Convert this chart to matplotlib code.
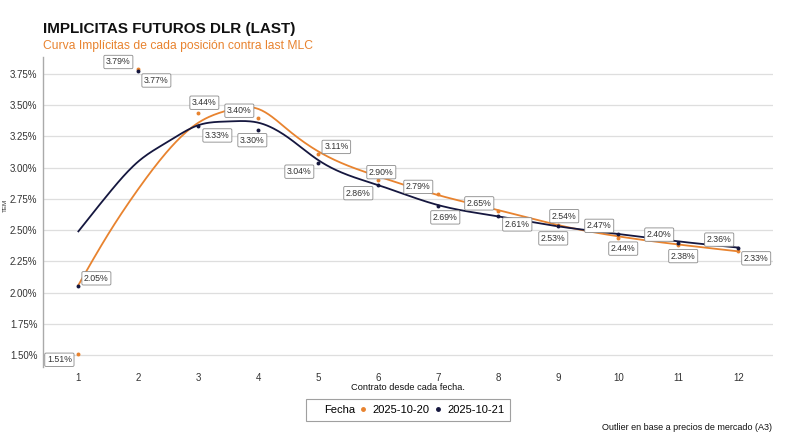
import numpy as np
import matplotlib
matplotlib.use("Agg")
import matplotlib.pyplot as plt
from matplotlib.lines import Line2D
from matplotlib.ticker import FuncFormatter

plt.rcParams['font.family'] = ['Liberation Sans', 'DejaVu Sans']

# ---------------- data ----------------
contracts = [1, 2, 3, 4, 5, 6, 7, 8, 9, 10, 11, 12]
vals_1020 = [1.51, 3.79, 3.44, 3.40, 3.11, 2.90, 2.79, 2.65, 2.54, 2.44, 2.38, 2.33]
vals_1021 = [2.05, 3.77, 3.33, 3.30, 3.04, 2.86, 2.69, 2.61, 2.53, 2.47, 2.40, 2.36]

# smoothed curves
smooth_x = [1, 1.5, 2, 2.5, 3, 3.5, 4, 4.5, 5, 6, 7, 8, 9, 10, 11, 12]
smooth_1020 = [2.06, 2.47, 2.83, 3.14, 3.36, 3.46, 3.47, 3.30, 3.13, 2.93, 2.78, 2.66, 2.54, 2.45, 2.385, 2.33]
smooth_1021 = [2.49, 2.79, 3.05, 3.21, 3.34, 3.37, 3.36, 3.24, 3.06, 2.86, 2.70, 2.61, 2.53, 2.47, 2.41, 2.36]

series_labels = ["2025-10-20", "2025-10-21"]
yticks = [1.50, 1.75, 2.00, 2.25, 2.50, 2.75, 3.00, 3.25, 3.50, 3.75]

# label offsets (pixels) - styling
off_1020 = [(-19, -6), (-20, 7), (6, 10), (-19, 7), (18, 7), (3, 8), (-20, 7), (-19, 8),
            (6, 9), (5, -11), (5, -11), (18, -7)]
off_1021 = [(18, 8), (18, -9), (19, -9), (-6, -10), (-19, -9), (-20, -8), (7, -11), (19, -8),
            (-5, -12), (-19, 8), (-19, 8), (-19, 8)]

ORANGE = "#E8832F"
NAVY = "#15173F"


def natural_spline(x, y, xs):
    x = np.asarray(x, float); y = np.asarray(y, float)
    n = len(x)
    h = np.diff(x)
    A = np.zeros((n, n)); b = np.zeros(n)
    A[0, 0] = 1; A[-1, -1] = 1
    for i in range(1, n - 1):
        A[i, i - 1] = h[i - 1]
        A[i, i] = 2 * (h[i - 1] + h[i])
        A[i, i + 1] = h[i]
        b[i] = 3 * ((y[i + 1] - y[i]) / h[i] - (y[i] - y[i - 1]) / h[i - 1])
    c = np.linalg.solve(A, b)
    bb = (y[1:] - y[:-1]) / h - h * (2 * c[:-1] + c[1:]) / 3
    d = (c[1:] - c[:-1]) / (3 * h)
    idx = np.clip(np.searchsorted(x, xs) - 1, 0, n - 2)
    dx = xs - x[idx]
    return y[idx] + bb[idx] * dx + c[idx] * dx ** 2 + d[idx] * dx ** 3


fig = plt.figure(figsize=(8.0, 4.43), dpi=100)
ax = fig.add_axes([43 / 800, 1 - 367 / 443, (773 - 43) / 800, (367 - 57) / 443])

xs = np.linspace(1, 12, 400)
ax.plot(xs, natural_spline(smooth_x, smooth_1020, xs), color=ORANGE, lw=1.3, zorder=3)
ax.plot(xs, natural_spline(smooth_x, smooth_1021, xs), color=NAVY, lw=1.3, zorder=3)

ax.scatter(contracts, vals_1020, s=8, color=ORANGE, zorder=4, linewidths=0)
ax.scatter(contracts, vals_1021, s=8, color=NAVY, zorder=5, linewidths=0)

bbox = dict(boxstyle="round,pad=0.25,rounding_size=0.15", fc="white", ec="#8a8a8a", lw=0.6)
for xv, yv, off in zip(contracts, vals_1020, off_1020):
    ax.annotate(f"{yv:.2f}%", (xv, yv), xytext=off, textcoords="offset pixels",
                ha="center", va="center", fontsize=6.3, color="#333333", bbox=bbox, zorder=6)
for xv, yv, off in zip(contracts, vals_1021, off_1021):
    ax.annotate(f"{yv:.2f}%", (xv, yv), xytext=off, textcoords="offset pixels",
                ha="center", va="center", fontsize=6.3, color="#333333", bbox=bbox, zorder=6)

ax.set_xlim(0.41, 12.58)
ax.set_ylim(1.404, 3.886)
ax.set_xticks(contracts)
ax.set_yticks(yticks)
ax.yaxis.set_major_formatter(FuncFormatter(lambda v, p: f"{v:.2f}%"))
ax.tick_params(axis="both", length=0, labelsize=7.0, colors="#333333")
ax.tick_params(axis="x", pad=4)
ax.tick_params(axis="y", pad=4)
ax.grid(axis="y", color="#dedede", lw=0.9)
ax.set_axisbelow(True)
for s in ["top", "right", "bottom"]:
    ax.spines[s].set_visible(False)
ax.spines["left"].set_color("#aaaaaa")
ax.spines["left"].set_linewidth(1.0)

ax.set_xlabel("Contrato desde cada fecha.", fontsize=6.7, color="#111111", labelpad=0)
fig.text(5.5 / 800, 1 - 205 / 443, "TEM", rotation=90, fontsize=4.5, ha="center", va="center", color="#333333")

fig.text(43 / 800, 1 - 29 / 443, "IMPLICITAS FUTUROS DLR (LAST)", fontsize=11, fontweight="bold",
         ha="left", va="center", color="#111111")
fig.text(43 / 800, 1 - 46 / 443, "Curva Implícitas de cada posición contra last MLC", fontsize=8.7,
         ha="left", va="center", color=ORANGE)

handles = [Line2D([], [], ls="none"),
           Line2D([], [], ls="none", marker="o", markersize=2.5, color=ORANGE),
           Line2D([], [], ls="none", marker="o", markersize=2.5, color=NAVY)]
labels = ["Fecha"] + series_labels
leg = fig.legend(handles, labels, ncol=3, loc="center", bbox_to_anchor=(408 / 800, 1 - 410 / 443),
                 fontsize=8, frameon=True, fancybox=False, edgecolor="#888888",
                 handlelength=0.5, handletextpad=0.6, columnspacing=0.5, borderpad=0.5,
                 borderaxespad=0)
leg.get_frame().set_linewidth(0.8)

fig.text(772 / 800, 1 - 427 / 443, "Outlier en base a precios de mercado (A3)", fontsize=6.5,
         ha="right", va="center", color="#111111")

fig.savefig("out.png", dpi=100)
